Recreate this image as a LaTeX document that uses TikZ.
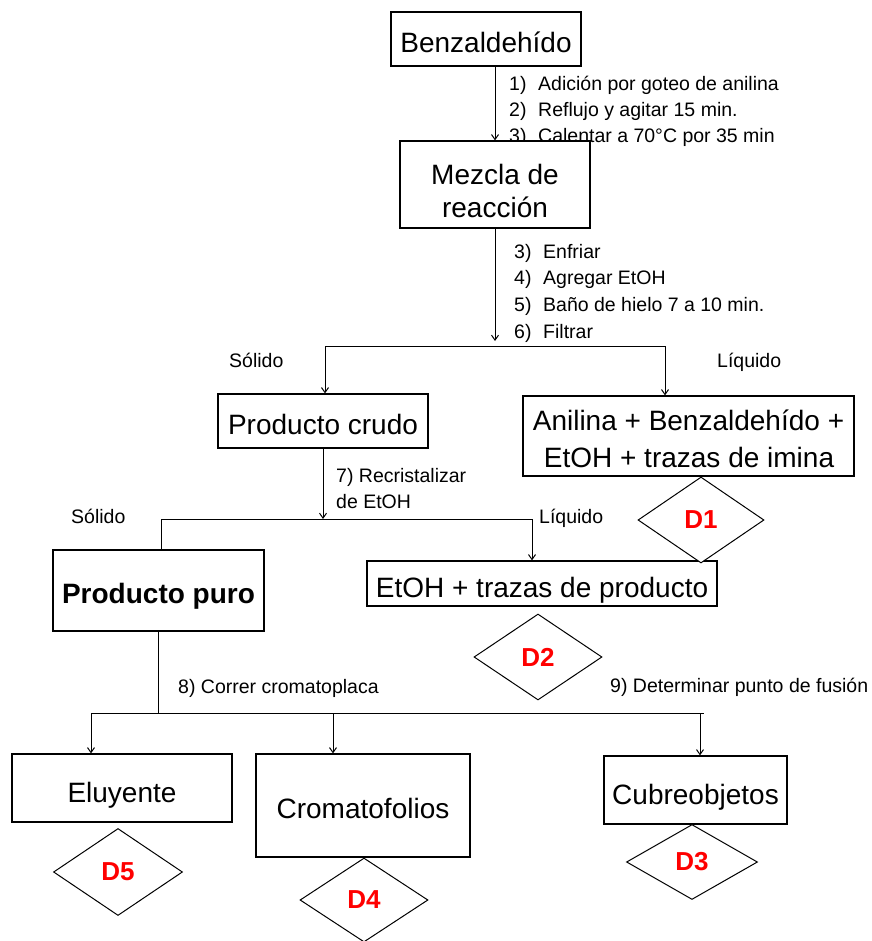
\documentclass[tikz,border=0pt]{standalone}
\usepackage{fontspec}
\setmainfont{Liberation Sans}
\usetikzlibrary{shapes.geometric,arrows.meta}
\newcommand{\myBig}{\fontsize{28}{33}\selectfont}
\newcommand{\mySmall}{\fontsize{19.5}{24}\selectfont}
\newcommand{\myD}{\fontsize{26}{30}\selectfont\bfseries}
\begin{document}
\begin{tikzpicture}[x=1pt,y=-1pt,
  box/.style={draw, line width=1.2pt, fill=white, inner sep=0pt, text depth=0pt, font=\myBig},
  txt/.style={anchor=base, inner sep=0pt, font=\myBig},
  lbl/.style={anchor=base west, inner sep=0pt, font=\mySmall},
  dia/.style={diamond, draw, line width=1pt, fill=white, inner sep=0pt, font=\myD, text=red},
  conn/.style={line width=1pt},
  arr/.style={line width=1pt, -{Straight Barb[length=5pt,width=7pt]}}]
\useasboundingbox (0,0) rectangle (871,941);
% top
\node[box, minimum width=190pt, minimum height=54pt, text height=28pt] (benz) at (486,39) {Benzaldehído};
\node[lbl] (s1) at (509,91) {\makebox[29pt][l]{1)}Adición por goteo de anilina};
\node[lbl] (s2) at (509,117) {\makebox[29pt][l]{2)}Reflujo y agitar 15 min.};
\node[lbl] (s3) at (509,143) {\makebox[29pt][l]{3)}Calentar a 70°C por 35 min};
\node[box, minimum width=190pt, minimum height=87pt] (mezcla) at (495,184.5) {};
\node[txt] (mz1) at (495,185) {Mezcla de};
\node[txt] (mz2) at (495,218) {reacción};
\draw[arr] (benz.south -| mezcla.north) -- (mezcla.north);
% steps 3-6
\node[lbl] (s4) at (514,258) {\makebox[29pt][l]{3)}Enfriar};
\node[lbl] (s5) at (514,284) {\makebox[29pt][l]{4)}Agregar EtOH};
\node[lbl] (s6) at (514,311) {\makebox[29pt][l]{5)}Baño de hielo 7 a 10 min.};
\node[lbl] (s7) at (514,338) {\makebox[29pt][l]{6)}Filtrar};
% first split
\node[box, minimum width=210pt, minimum height=54pt, text height=26pt] (crudo) at (323,421) {Producto crudo};
\node[box, minimum width=331pt, minimum height=80pt] (anilina) at (688.5,436) {};
\node[txt] (an1) at (688.5,430) {Anilina + Benzaldehído +};
\node[txt] (an2) at (689,467) {EtOH + trazas de imina};
\coordinate (j1) at (495,341);
\coordinate (bl1) at (325,346);
\coordinate (br1) at (665,346);
\draw[arr] (mezcla.south) -- (j1);
\draw[conn] (bl1) -- (br1);
\draw[arr] (bl1) -- (bl1 |- crudo.north);
\draw[arr] (br1) -- (br1 |- anilina.north);
\node[lbl] (sol1) at (229,367) {Sólido};
\node[lbl] (liq1) at (717,367) {Líquido};
% second split
\node[box, minimum width=211pt, minimum height=81pt, text height=25pt, font=\myBig\bfseries] (puro) at (158.5,590.5) {Producto puro};
\node[box, minimum width=350pt, minimum height=45pt, text height=27pt] (etoh) at (542,583.5) {EtOH + trazas de producto};
\coordinate (j2) at (323,519);
\coordinate (bl2) at (161,519);
\coordinate (br2) at (532,519);
\draw[arr] (crudo.south) -- (j2);
\draw[conn] (bl2) -- (br2);
\draw[conn] (bl2) -- (bl2 |- puro.north);
\draw[arr] (br2) -- (br2 |- etoh.north);
\node[lbl] (s8) at (336,482) {7) Recristalizar};
\node[lbl] (s9) at (336,508) {de EtOH};
\node[lbl] (sol2) at (71,523) {Sólido};
\node[lbl] (liq2) at (539,523) {Líquido};
\node[dia, minimum width=126pt, minimum height=86pt] (d1) at (701,520) {D1};
\node[dia, minimum width=128pt, minimum height=86pt] (d2) at (538,657) {D2};
\node[lbl] (s11) at (610,692) {9) Determinar punto de fusión};
\node[lbl] (s10) at (178,693) {8) Correr cromatoplaca};
% bottom split
\node[box, minimum width=220pt, minimum height=68pt, text height=28pt] (elu) at (122,788) {Eluyente};
\node[box, minimum width=214pt, minimum height=103pt, text height=25pt] (cromato) at (363,805.5) {Cromatofolios};
\node[box, minimum width=183pt, minimum height=68pt, text height=28pt] (cubre) at (695.5,790) {Cubreobjetos};
\coordinate (bl3) at (91,713);
\coordinate (m3) at (333,713);
\coordinate (r3) at (700,713);
\coordinate (br3) at (704,713);
\draw[conn] (puro.south) -- (puro.south |- bl3);
\draw[conn] (bl3) -- (br3);
\draw[arr] (bl3) -- (bl3 |- elu.north);
\draw[arr] (m3) -- (m3 |- cromato.north);
\draw[arr] (r3) -- (r3 |- cubre.north);
\node[dia, minimum width=129pt, minimum height=87pt] (d5) at (118,872) {D5};
\node[dia, minimum width=128pt, minimum height=84pt] (d4) at (364,900) {D4};
\node[dia, minimum width=131pt, minimum height=75pt] (d3) at (692,862) {D3};
\end{tikzpicture}
\end{document}
